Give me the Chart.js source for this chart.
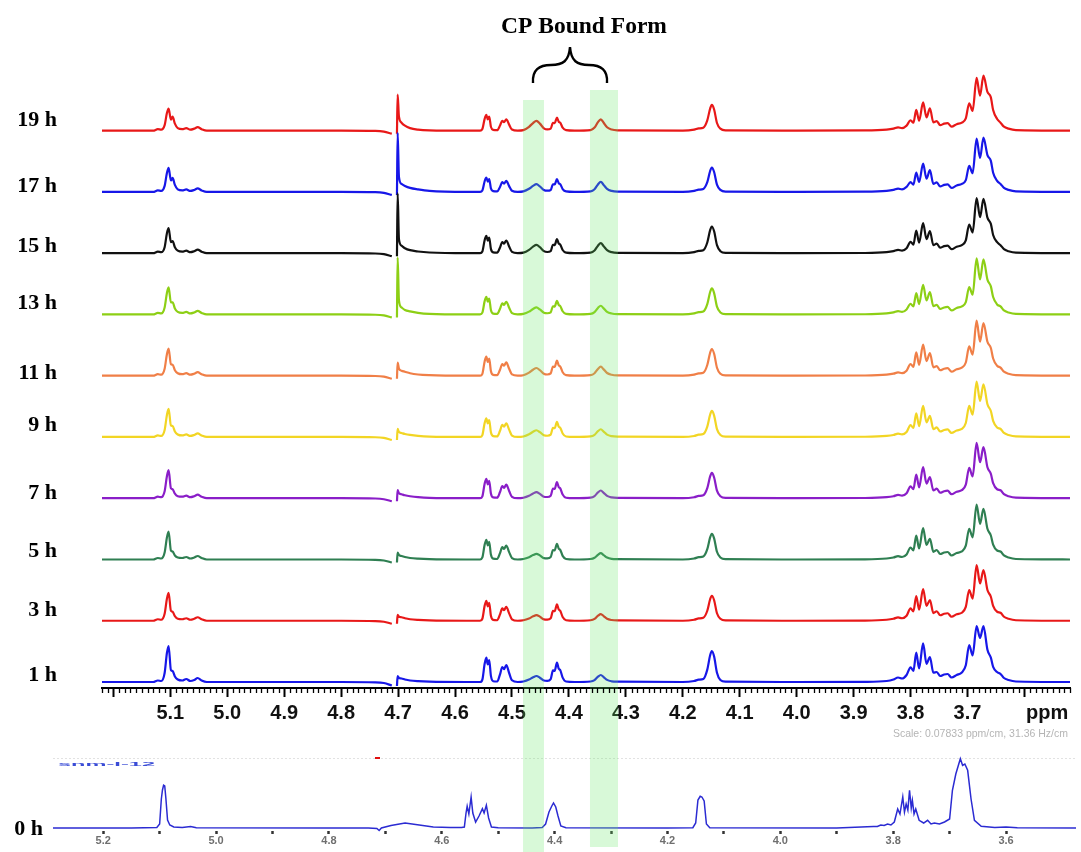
<!DOCTYPE html>
<html><head><meta charset="utf-8">
<script src="https://cdn.jsdelivr.net/npm/chart.js@4.4.1/dist/chart.umd.min.js"></script>
<style>
html,body{margin:0;padding:0;background:#fff;}
#wrap{position:relative;width:1081px;height:852px;overflow:hidden;background:#fff;}
#c0{position:absolute;left:0;top:740px;z-index:1;}
#c1{position:absolute;left:0;top:0;z-index:2;}
</style></head><body>
<div id="wrap"><canvas id="c0" width="1081" height="112"></canvas><canvas id="c1" width="1081" height="852"></canvas></div>
<script>
// ---------- DATA ----------
const SPECTRA_NAMES = ['1 h','3 h','5 h','7 h','9 h','11 h','13 h','15 h','17 h','19 h'];
const TITLE = 'CP Bound Form';
const ZERO_NAME = '0 h';
const SAMPLE_ID = 'snm-I-12';
const SCALE_NOTE = 'Scale: 0.07833 ppm/cm, 31.36 Hz/cm';

// chemical shift grid (ppm) shared by the stacked spectra
const PPM = [
5.22,5.13,5.122,5.116,5.110,5.106,5.103,5.099,5.096,5.092,
5.087,5.079,5.072,5.065,5.058,5.052,5.045,5.036,4.80,4.74,
4.725,4.711,4.706,4.702,4.7008,4.6985,4.694,4.688,4.679,4.665,
4.645,4.58,4.556,4.552,4.548,4.545,4.5425,4.540,4.537,4.533,
4.526,4.521,4.517,4.514,4.510,4.505,4.500,4.490,4.480,4.470,
4.463,4.457,4.451,4.444,4.438,4.432,4.428,4.425,4.421,4.418,
4.415,4.411,4.405,4.39,4.362,4.355,4.349,4.344,4.339,4.333,
4.325,4.315,4.20,4.180,4.172,4.164,4.157,4.152,4.149,4.145,
4.140,4.134,4.125,4.00,3.88,3.842,3.830,3.822,3.815,3.807,
3.800,3.795,3.790,3.785,3.778,3.772,3.766,3.760,3.754,3.748,
3.741,3.735,3.728,3.719,3.710,3.703,3.697,3.691,3.684,3.678,
3.672,3.665,3.659,3.655,3.648,3.642,3.636,3.628,3.615,3.52];

// intensities (a.u.); null = suppressed solvent gap
const I_1H = [0,0,1.5,1,9,29,36,12,11,5.5,2.5,1.5,3,1,2,4,1.5,0,
0,-0.3,-1,-3.5,null,-4,6,4,3.5,2.5,1.5,0.8,0.3,0,0,
2.4,18.2,24.3,17.5,21.9,6.1,0.8,0.5,7.7,15,12.8,17,9,1.7,0,
0.5,2.4,4.7,6,4.3,1.5,1.2,2.9,11.6,11.2,19.3,13.5,11.6,4.4,0.5,0,
0.5,1.9,5.3,7,4.9,2.1,0.7,0.3,
0,1,2.3,3,12.4,26.7,31,25.4,9.3,2,0.3,
0,0.2,1,2.5,4.5,3.5,7,14.7,11.1,29.3,13.5,38.7,18.2,25,9.3,10,6,7.5,8,4.5,7,9.5,
16.7,37,26.6,56,44,56,32.2,24.3,15.1,10,8,4,2,0.5,0];
const I_3H = [0,0,1.5,1,7,22,28,10,9,4.5,2,1.5,2.5,1,2,3.5,1.5,0,
0,-0.3,-1,-3,null,-3,6,4,3.5,2.5,1.5,0.8,0.3,0,0,
2,15,20,14.4,18,5,0.8,0.5,6.3,12.3,10.5,14,7.4,1.4,0,
0.5,2.3,4.4,5.7,4.1,1.4,1.2,2.4,9.8,9.5,16.3,11.4,9.8,3.7,0.5,0,
0.5,1.8,5,6.7,4.7,2,0.7,0.3,
0,1,2.3,3,10,21.5,25,20.5,7.5,2,0.3,
0,0.2,1,2,3.3,2.5,5,12.4,9.4,24.7,11.1,31.7,14.9,20.7,7.7,9.5,5.5,7,7.5,4,6.5,8,
13.8,30.7,22.1,55.7,37.3,50.7,30.7,24,14.9,9,8,4,2,0.5,0];
const I_5H = [0,0,1.5,1,7,22,28,9,8,4,2,1.5,2.5,1,2,3.5,1.5,0,
0,-0.3,-1,-3,null,-3,7,4.5,3.5,2.5,1.5,0.8,0.3,0,0,
2,14.8,19.7,14.2,17.7,4.9,0.8,0.5,6.3,12.3,10.5,14,7.4,1.4,0,
0.5,2.3,4.4,5.7,4.1,1.4,1.2,2.4,9.4,9.1,15.7,11,9.4,3.6,0.5,0,
0.5,1.7,4.7,6.3,4.4,1.9,0.6,0.3,
0,1,2.3,3,10.3,22.1,25.7,21.1,7.7,2,0.3,
0,0.2,1,2,3.3,2.5,5,12,9.1,24,11,31.3,14.7,20.7,7.7,9.5,5.5,7,7.5,4,6.5,8,
13.8,30.7,22.1,55,35.7,50.7,30.7,24,14.9,9,8,4,2,0.5,0];
const I_7H = [0,0,1.5,1,7,22,28,10,9,4.5,2,1.5,2.5,1,2,3.5,1.5,0,
0,-0.3,-1,-3,null,-3,8,5,4,3,2,1,0.3,0,0,
1.9,14.5,19.3,13.9,17.4,4.8,0.8,0.5,6.2,12.1,10.3,13.7,7.3,1.4,0,
0.5,2.4,4.7,6,4.3,1.5,1.2,2.4,9.6,9.3,16,11.2,9.6,3.7,0.5,0,
0.5,2.1,5.8,7.7,5.4,2.3,0.8,0.3,
0,1,2.3,3,10.1,21.8,25.3,20.7,7.6,2,0.3,
0,0.2,1,2,3.3,2.5,5,11.9,9,23.7,10.9,31,14.6,21,7.8,9.5,5.5,7,7.5,4,6.5,8,
13.6,30.3,21.8,55.3,36,51,31,24.3,15.1,9,8,4,2,0.5,0];
const I_9H = [0,0,1.5,1,7,22,28,11.5,11,5.5,2.5,1.5,2.5,1,2,3.5,1.5,0,
0,-0.3,-1,-3,null,-3,8,5,4,3,2,1,0.3,0,0,
1.9,14,18.7,13.5,16.8,4.7,0.8,0.5,6.2,12.1,10.3,13.7,7.3,1.4,0,
0.5,2.7,5.2,6.7,4.8,1.7,1.2,2.3,9,8.7,15,10.5,9,3.5,0.5,0,
0.5,2.1,5.8,7.7,5.4,2.3,0.8,0.3,
0,1,2.3,3,10.4,22.4,26,21.3,7.8,2,0.3,
0,0.2,1,2,3.3,2.5,5,11.9,9,23.7,10.9,31,14.6,21,7.8,9.5,5.5,7,7.5,4,6.5,8,
14,31,22.3,55.3,36,52.7,32.7,26,16.1,9.5,8,4,2,0.5,0];
const I_11H = [0,0,1.5,1,7,21.5,27,11.5,11,5.5,2.5,1.5,2.5,1,2,3.5,1.5,0,
0,-0.3,-1,-3,null,-3,13,7,5,4,2.5,1.2,0.5,0,0,
1.9,14.3,19,13.7,17.1,4.8,0.8,0.5,6,11.7,10,13.3,7,1.3,0,
0.5,3.1,6,7.7,5.5,1.9,1.2,2.3,9,8.7,15,10.5,9,3.5,0.5,0,
0.5,2.4,6.8,9,6.3,2.7,0.9,0.3,
0,1,2.3,3,10.7,23,26.7,21.9,8,2,0.3,
0,0.2,1,2,3.3,2.5,5,11.7,8.9,23.3,10.9,31,14.6,22.7,8.4,9.5,5.5,7,7.5,4,6.5,8,
13.2,29.3,21.1,55,34,52.7,34,27.7,17.2,10,8,4,2,0.5,0];
const I_13H = [0,0,1.5,1,7,21.5,27,12,12,6,2.5,1.5,2.5,1,2,3.5,1.5,0,
0,-0.3,-1,-3,null,-3,57,14,7,4.5,3,1.5,0.5,0,0,
1.8,13.3,17.7,12.7,15.9,4.4,0.8,0.5,5.7,11.2,9.5,12.7,6.7,1.3,0,
0.5,2.8,5.5,7,5,1.8,1.2,2.1,8.2,7.9,13.7,9.6,8.2,3.2,0.5,0,
0.5,2.3,6.5,8.7,6.1,2.6,0.9,0.3,
0,1,2.3,3,10.4,22.4,26,21.3,7.8,2,0.3,
0,0.2,1,2,3.3,2.5,5,10.7,8.1,21.3,10.4,29.7,14,22.3,8.3,9.5,5.5,7,7.5,4,6.5,8,
12.3,27.3,19.7,56,35,55,34.8,28,17.4,10,8,4,2,0.5,0];
const I_15H = [0,0,1.5,1,6,20,25,11,12,6,2.5,1.5,2.5,1,2,3.5,1.5,0,
0,-0.3,-1,-3,null,-3,60,14,7.5,5,3,1.7,0.7,0,0,
1.7,13,17.3,12.5,15.6,4.3,0.8,0.5,5.7,11.2,9.5,12.7,6.7,1.3,0,
0.5,3.3,6.5,8.3,6,2.1,1.2,2.1,8.4,8.1,14,9.8,8.4,3.2,0.5,0,
0.5,2.7,7.5,10,7,3,1,0.3,
0,1,2.3,3,10.7,23,26.7,21.9,8,2,0.3,
0,0.2,1,2,3.3,2.5,5,11.4,8.6,22.7,10.5,30,14.1,22,8.1,9.5,5.5,7,7.5,4,6.5,8,
12.9,28.7,20.7,55,36,54.3,35.6,29.3,18.2,11,8,4,2,0.5,0];
const I_17H = [0,0,1.5,1,6,19,24,11.5,14,7,2.5,1.5,2.5,1,2,3.5,1.5,0,
0,-0.3,-1,-3,null,-3,59,15,8,6,4,2.5,1,0,0,
1.4,10.7,14.3,10.3,12.9,3.6,0.8,0.5,5,9.7,8.3,11,5.8,1.1,0,
0.5,3.1,6,7.7,5.5,1.9,1.2,1.9,7.6,7.4,12.7,8.9,7.6,2.9,0.5,0,
0.5,2.7,7.5,10,7,3,1,0.3,
0,1,2.3,3,9.7,20.9,24.3,19.9,7.3,2,0.3,
0,0.2,1,2,3.3,2.5,5,9.7,7.3,19.3,9.9,28.3,13.3,21.7,8,9.5,5.5,7,7.5,4,6.5,8,
11.7,26,18.7,53.3,34,54.3,36.8,31,19.2,11,8,4,2,0.5,0];
const I_19H = [0,0,1.5,1,5.5,17.6,22,11,14,7,2.5,1.5,2.5,1,2,3.5,1.5,0,
0,-0.3,-1,-3,null,-3,36,14,8,5,2.5,1,0.3,0,0,
1.6,11.8,15.7,11.3,14.1,3.9,0.8,0.5,5.1,9.9,8.5,11.3,6,1.1,0,
0.5,3.9,7.6,9.7,7,2.4,1.2,2,7.8,7.5,13,9.1,7.8,3,0.5,0,
0.5,3.1,8.5,11.3,7.9,3.4,1.1,0.3,
0,1,2.3,3,10.3,22.1,25.7,21.1,7.7,2,0.3,
0,0.2,1,2,3.3,2.5,5,10.4,7.9,20.7,9.9,28.3,13.3,22.3,8.3,9.5,5.5,7,7.5,4,6.5,8,
12.3,27.3,19.7,52.7,35,55,38.7,33.3,20.6,11.7,8,4,2,0.5,0];

// 0 h reference spectrum on its own ppm axis
const ZERO_PPM = [5.289,5.15,5.105,5.100,5.097,5.095,5.093,5.091,5.089,5.086,
5.082,5.075,5.060,5.045,5.035,4.80,4.73,4.715,4.711,4.707,
4.69,4.665,4.64,4.615,4.585,4.565,4.560,4.557,4.555,4.552,
4.548,4.545,4.540,4.534,4.528,4.525,4.521,4.517,4.512,4.50,
4.44,4.422,4.416,4.410,4.405,4.402,4.398,4.394,4.389,4.38,
4.20,4.155,4.150,4.146,4.142,4.139,4.135,4.131,4.125,3.90,
3.835,3.828,3.822,3.816,3.810,3.804,3.798,3.792,3.788,3.783,
3.780,3.777,3.774,3.771,3.768,3.766,3.763,3.760,3.754,3.746,
3.739,3.733,3.727,3.718,3.709,3.700,3.695,3.689,3.681,3.677,
3.673,3.668,3.662,3.656,3.644,3.62,3.60,3.58,3.476];
const ZERO_I = [0,0,0.5,4,29,38,42.7,42,30,8,
3,1,0.5,1.5,0.3,0,0,-0.5,-2.5,0,
2.5,5,3,1,0.5,0.5,1,15,21.7,14,
31,15,6,12,19.3,15,22.7,10,1,0.3,
0,0.5,4,16,22,25,21,12,2,0.3,
0,0.3,5,28,31.7,31,27,4,0.3,0,
1.5,1.5,3,2.5,4,3,6,19,14,31,
16,24,18,37.7,20,27.7,14,19,7.7,5,
7.7,4,5,4,6,9,37.7,54,69.3,62.7,
64,57.7,29,7.7,1.7,0.5,1,0.3,0];

// axes
const AXIS_TICKS = [5.2,5.1,5.0,4.9,4.8,4.7,4.6,4.5,4.4,4.3,4.2,4.1,4.0,3.9,3.8,3.7,3.6];
const AXIS_LABELS = ['5.1','5.0','4.9','4.8','4.7','4.6','4.5','4.4','4.3','4.2','4.1','4.0','3.9','3.8','3.7'];
const ZERO_AXIS_TICKS = [5.2,5.1,5.0,4.9,4.8,4.7,4.6,4.5,4.4,4.3,4.2,4.1,4.0,3.9,3.8,3.7,3.6];
const ZERO_AXIS_LABELS = ['5.2','5.0','4.8','4.6','4.4','4.2','4.0','3.8','3.6'];
// CP bound form regions (ppm)
const CP_BANDS = [[4.4806,4.4438],[4.3630,4.3138]];

// ---------- STYLE / LAYOUT ----------
const SERIES = [I_1H,I_3H,I_5H,I_7H,I_9H,I_11H,I_13H,I_15H,I_17H,I_19H];
const COLORS = ['#1717e8','#e81818','#2f7f52','#8a1ec8','#f2d524','#f07f47','#8dcf15','#111111','#1717e8','#e81818'];
const STEP = 61.26;
const LABEL_Y = [675,610,551,493,425,373,303,246,186,120];
const BAND_TOP = [100,90];
const BAND_BOTTOM = [852,847];
const SERIF = "'Liberation Serif','Times New Roman',serif";
const SANS = "'Liberation Sans',Arial,sans-serif";
Chart.defaults.font.family = SANS;

const topDecor = {
  id: 'topDecor',
  afterDatasetsDraw(chart) {
    const ctx = chart.ctx, x = chart.scales.x;
    ctx.save();
    ctx.fillStyle = 'rgba(100,230,100,0.25)';
    CP_BANDS.forEach((b, i) => {
      const x1 = x.getPixelForValue(b[0]), x2 = x.getPixelForValue(b[1]);
      ctx.fillRect(x1, BAND_TOP[i], x2 - x1, BAND_BOTTOM[i] - BAND_TOP[i]);
    });
    ctx.restore();
  },
  afterDraw(chart) {
    const ctx = chart.ctx, x = chart.scales.x, yb = chart.chartArea.bottom;
    ctx.save();
    // minor ticks every 0.01 ppm
    ctx.strokeStyle = '#000'; ctx.lineWidth = 1.3;
    for (let k = 352; k <= 522; k++) {
      if (k % 10 === 0) continue;
      const px = Math.round(x.getPixelForValue(k / 100)) + 0.5;
      ctx.beginPath(); ctx.moveTo(px, yb); ctx.lineTo(px, yb + 5); ctx.stroke();
    }
    // unit
    ctx.fillStyle = '#111';
    ctx.font = 'bold 20px ' + SANS;
    ctx.textAlign = 'center'; ctx.textBaseline = 'middle';
    ctx.fillText('ppm', x.getPixelForValue(3.56), 713);
    // scale note
    ctx.fillStyle = '#b5b5b5';
    ctx.font = '10.5px ' + SANS;
    ctx.textAlign = 'right';
    ctx.fillText(SCALE_NOTE, 1068, 734);
    // title
    ctx.fillStyle = '#000';
    ctx.font = 'bold 23.5px ' + SERIF;
    ctx.textAlign = 'center'; ctx.textBaseline = 'alphabetic';
    ctx.fillText(TITLE, 584, 33);
    // brace
    ctx.strokeStyle = '#000'; ctx.lineWidth = 2.4;
    ctx.beginPath();
    ctx.moveTo(533, 83);
    ctx.bezierCurveTo(532, 70, 539, 65, 551, 65);
    ctx.bezierCurveTo(563, 65, 569, 61, 570, 47);
    ctx.bezierCurveTo(571, 61, 577, 65, 589, 65);
    ctx.bezierCurveTo(601, 65, 608, 70, 607, 83);
    ctx.stroke();
    // time labels
    ctx.fillStyle = '#000';
    ctx.font = 'bold 22px ' + SERIF;
    ctx.textAlign = 'right'; ctx.textBaseline = 'middle';
    SPECTRA_NAMES.forEach((n, i) => ctx.fillText(n, 57, LABEL_Y[i]));
    ctx.fillText(ZERO_NAME, 43, 829);
    ctx.restore();
  }
};

new Chart(document.getElementById('c1'), {
  type: 'line',
  data: {
    datasets: SERIES.map((vals, i) => ({
      label: SPECTRA_NAMES[i],
      data: PPM.map((p, j) => ({x: p, y: vals[j] === null ? null : vals[j] + i * STEP})),
      borderColor: COLORS[i],
      borderWidth: 2.2,
      borderJoinStyle: 'round',
      pointRadius: 0,
      cubicInterpolationMode: 'monotone',
      spanGaps: false,
      clip: false,
      fill: false
    }))
  },
  options: {
    responsive: false, animation: false, devicePixelRatio: 1, events: [],
    layout: {padding: {left: 102, right: 11, top: 40, bottom: 124}},
    plugins: {legend: {display: false}, tooltip: {enabled: false}},
    scales: {
      x: {
        type: 'linear', reverse: true, min: 3.52, max: 5.22,
        afterBuildTicks: s => { s.ticks = AXIS_TICKS.map(v => ({value: v})); },
        afterFit: s => { s.height = 40; },
        grid: {drawOnChartArea: false, drawTicks: true, tickLength: 9, tickWidth: 2, tickColor: '#000'},
        border: {display: true, color: '#000', width: 2},
        ticks: {autoSkip: false, maxRotation: 0, padding: 4, color: '#111',
          font: {size: 20, weight: 'bold'},
          callback: v => { const s = Number(v).toFixed(1); return AXIS_LABELS.includes(s) ? s : ''; }}
      },
      y: {display: false, min: -6, max: 642}
    }
  },
  plugins: [topDecor]
});

const zeroDecor = {
  id: 'zeroDecor',
  afterDraw(chart) {
    const ctx = chart.ctx, ca = chart.chartArea;
    ctx.save();
    ctx.strokeStyle = '#e2e2e2'; ctx.lineWidth = 1; ctx.setLineDash([2, 2]);
    ctx.beginPath(); ctx.moveTo(ca.left, ca.top + 0.5); ctx.lineTo(ca.right, ca.top + 0.5); ctx.stroke();
    ctx.setLineDash([]);
    ctx.strokeStyle = '#e01010'; ctx.lineWidth = 2;
    ctx.beginPath(); ctx.moveTo(375, ca.top); ctx.lineTo(380, ca.top); ctx.stroke();
    ctx.fillStyle = '#3a4cd6';
    ctx.font = 'bold 10px ' + SANS;
    const w = ctx.measureText(SAMPLE_ID).width;
    ctx.translate(58, 24); ctx.scale(97 / w, 0.6);
    ctx.textBaseline = 'middle'; ctx.textAlign = 'left';
    ctx.fillText(SAMPLE_ID, 0, 0);
    ctx.restore();
  }
};

new Chart(document.getElementById('c0'), {
  type: 'line',
  data: {
    datasets: [{
      label: ZERO_NAME,
      data: ZERO_PPM.map((p, j) => ({x: p, y: ZERO_I[j]})),
      borderColor: '#2b2bd2', borderWidth: 1.5, pointRadius: 0, tension: 0, clip: false, fill: false
    }]
  },
  options: {
    responsive: false, animation: false, devicePixelRatio: 1, events: [],
    layout: {padding: {left: 53, right: 5, top: 18, bottom: 0}},
    plugins: {legend: {display: false}, tooltip: {enabled: false}},
    scales: {
      x: {
        type: 'linear', reverse: true, min: 3.476, max: 5.289,
        afterBuildTicks: s => { s.ticks = ZERO_AXIS_TICKS.map(v => ({value: v})); },
        afterFit: s => { s.height = 21; },
        grid: {drawOnChartArea: false, drawTicks: true, tickLength: 3, tickWidth: 2.5, tickColor: '#333'},
        border: {display: false},
        ticks: {autoSkip: false, maxRotation: 0, padding: 0, color: '#6f6f6f',
          font: {size: 11, weight: 'bold'},
          callback: v => { const s = Number(v).toFixed(1); return ZERO_AXIS_LABELS.includes(s) ? s : ''; }}
      },
      y: {display: false, min: -3, max: 70}
    }
  },
  plugins: [zeroDecor]
});
</script></body></html>
